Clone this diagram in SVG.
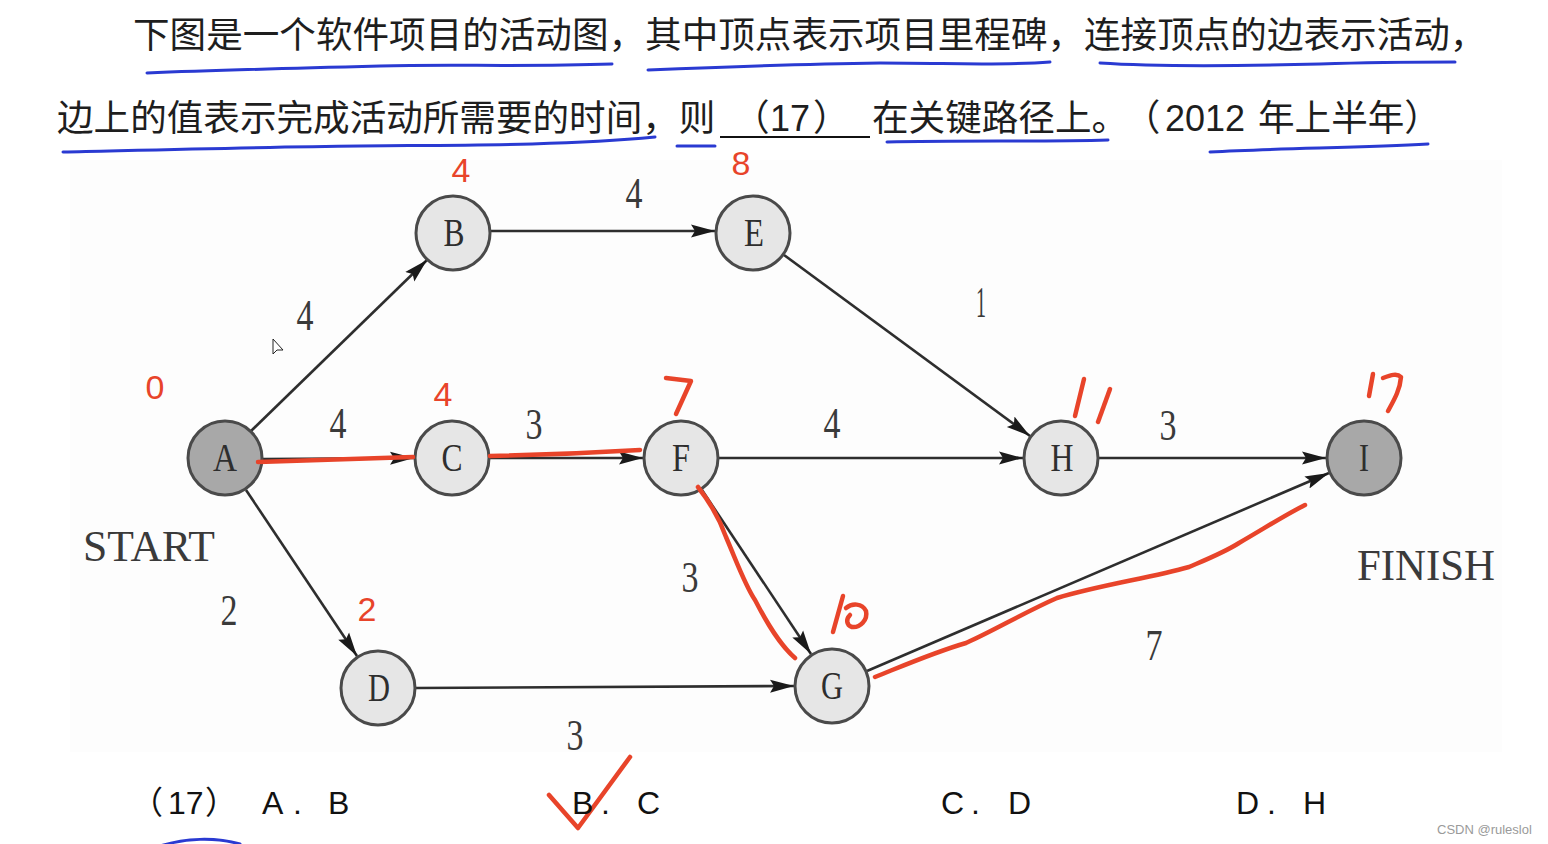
<svg xmlns="http://www.w3.org/2000/svg" width="1548" height="844" viewBox="0 0 1548 844">
<style>
.cn{font-family:"Noto Sans CJK SC","Noto Sans",sans-serif;font-size:36.6px;fill:#1e1e1e}
.num{font-family:"Liberation Sans",Arial,sans-serif;font-size:36px;fill:#1e1e1e}
.ans{font-family:"Liberation Sans",Arial,sans-serif;font-size:32px;fill:#111}
.ansc{font-family:"Noto Sans CJK SC",sans-serif;font-size:32px;fill:#111}
.nd{fill:#e6e6e6;stroke:#4a4a4a;stroke-width:3}
.nd.dark{fill:#a8a8a8}
.nl{font-family:"Liberation Serif","Times New Roman",serif;font-size:40px;fill:#2e2e2e;text-anchor:middle}
.el{font-family:"Liberation Serif","Times New Roman",serif;font-size:44px;fill:#3a3a3a;text-anchor:middle}
.edge{stroke:#2e2e2e;stroke-width:2.6;fill:none;marker-end:url(#ah)}
.red{stroke:#e8442a;stroke-width:4.5;fill:none;stroke-linecap:round;stroke-linejoin:round}
.redt{font-family:"Liberation Sans",Arial,sans-serif;font-size:34px;fill:#e8442a;text-anchor:middle}
.blue{stroke:#2a3ad2;stroke-width:3;fill:none;stroke-linecap:round}
</style>
<defs>
<marker id="ah" markerUnits="userSpaceOnUse" markerWidth="26" markerHeight="16" refX="24" refY="8" orient="auto">
<path d="M0,1.5 L24,8 L0,14.5 L4,8 Z" fill="#1a1a1a"/>
</marker>
</defs>
<rect width="1548" height="844" fill="#ffffff"/>
<rect x="70" y="160" width="1432" height="592" fill="#fdfdfd"/>

<g id="question">
<text class="cn" x="133" y="48">下图是一个软件项目的活动图，其中顶点表示项目里程碑，连接顶点的边表示活动，</text>
<text class="cn" x="57" y="131">边上的值表示完成活动所需要的时间，则</text>
<text class="cn" x="733" y="131">（</text>
<text class="num" x="770" y="131">17</text>
<text class="cn" x="813" y="131">）</text>
<line x1="720" y1="137" x2="870" y2="137" stroke="#111" stroke-width="2"/>
<text class="cn" x="872" y="131">在关键路径上。<tspan dx="14">（</tspan><tspan class="num" x="1165">2012</tspan></text>
<text class="cn" x="1258" y="131">年上半年）</text>
</g>

<g id="blue-marks">
<path class="blue" d="M147,73 C220,70 300,68 380,66 C450,64 520,67 612,64"/>
<path class="blue" d="M648,70 C720,67 800,64 880,63 C950,63 1000,66 1050,62"/>
<path class="blue" d="M1100,63 C1160,67 1240,66 1320,64 C1380,62 1420,62 1455,62"/>
<path class="blue" d="M63,152 C150,150 260,147 360,146 C450,145 560,146 655,137"/>
<path class="blue" d="M677,146 L715,146"/>
<path class="blue" d="M887,142 C960,140 1040,142 1108,140"/>
<path class="blue" d="M1210,152 C1280,148 1360,148 1428,144"/>
<path class="blue" d="M160,846 C185,838 215,837 240,844"/>
</g>

<g id="connectors">
<line class="edge" x1="251" y1="431" x2="427" y2="260"/>
<line class="edge" x1="263" y1="459" x2="414" y2="458"/>
<line class="edge" x1="246" y1="490" x2="357" y2="656"/>
<line class="edge" x1="491" y1="231" x2="715" y2="231"/>
<line class="edge" x1="490" y1="458" x2="643" y2="458"/>
<line class="edge" x1="784" y1="255" x2="1030" y2="436"/>
<line class="edge" x1="719" y1="458" x2="1023" y2="458"/>
<line class="edge" x1="1099" y1="458" x2="1326" y2="458"/>
<line class="edge" x1="702" y1="490" x2="811" y2="654"/>
<line class="edge" x1="416" y1="688" x2="794" y2="686"/>
<line class="edge" x1="867" y1="671" x2="1329" y2="473"/>
<text class="el" x="305" y="330" textLength="17" lengthAdjust="spacingAndGlyphs">4</text>
<text class="el" x="338" y="438" textLength="17" lengthAdjust="spacingAndGlyphs">4</text>
<text class="el" x="229" y="625" textLength="17" lengthAdjust="spacingAndGlyphs">2</text>
<text class="el" x="634" y="208" textLength="17" lengthAdjust="spacingAndGlyphs">4</text>
<text class="el" x="534" y="439" textLength="17" lengthAdjust="spacingAndGlyphs">3</text>
<text class="el" x="981" y="317" textLength="10" lengthAdjust="spacingAndGlyphs">1</text>
<text class="el" x="832" y="438" textLength="17" lengthAdjust="spacingAndGlyphs">4</text>
<text class="el" x="690" y="592" textLength="17" lengthAdjust="spacingAndGlyphs">3</text>
<text class="el" x="575" y="750" textLength="17" lengthAdjust="spacingAndGlyphs">3</text>
<text class="el" x="1168" y="440" textLength="17" lengthAdjust="spacingAndGlyphs">3</text>
<text class="el" x="1154" y="660" textLength="17" lengthAdjust="spacingAndGlyphs">7</text>
</g>

<g id="node-A"><circle class="nd dark" cx="225" cy="458" r="37"/><text class="nl" x="225" y="471" textLength="24" lengthAdjust="spacingAndGlyphs">A</text></g>
<g id="node-B"><circle class="nd" cx="453" cy="233" r="37"/><text class="nl" x="454" y="246" textLength="21" lengthAdjust="spacingAndGlyphs">B</text></g>
<g id="node-C"><circle class="nd" cx="452" cy="458" r="37"/><text class="nl" x="452" y="471" textLength="21" lengthAdjust="spacingAndGlyphs">C</text></g>
<g id="node-D"><circle class="nd" cx="378" cy="688" r="37"/><text class="nl" x="379" y="701" textLength="22" lengthAdjust="spacingAndGlyphs">D</text></g>
<g id="node-E"><circle class="nd" cx="753" cy="233" r="37"/><text class="nl" x="754" y="246" textLength="20" lengthAdjust="spacingAndGlyphs">E</text></g>
<g id="node-F"><circle class="nd" cx="681" cy="458" r="37"/><text class="nl" x="681" y="471" textLength="18" lengthAdjust="spacingAndGlyphs">F</text></g>
<g id="node-G"><circle class="nd" cx="832" cy="686" r="37"/><text class="nl" x="832" y="699" textLength="22" lengthAdjust="spacingAndGlyphs">G</text></g>
<g id="node-H"><circle class="nd" cx="1061" cy="458" r="37"/><text class="nl" x="1062" y="471" textLength="23" lengthAdjust="spacingAndGlyphs">H</text></g>
<g id="node-I"><circle class="nd dark" cx="1364" cy="458" r="37"/><text class="nl" x="1364" y="471" textLength="10" lengthAdjust="spacingAndGlyphs">I</text></g>

<text class="el" x="149" y="561" font-size="44" textLength="132" lengthAdjust="spacingAndGlyphs">START</text>
<text class="el" x="1426" y="580" font-size="44" textLength="138" lengthAdjust="spacingAndGlyphs">FINISH</text>

<polygon points="273,339 273,354 277,350 283,350" fill="#fff" stroke="#222" stroke-width="1"/>

<g id="red-marks">
<text class="redt" x="461" y="182">4</text>
<text class="redt" x="741" y="175">8</text>
<text class="redt" x="155" y="399">0</text>
<text class="redt" x="443" y="406">4</text>
<text class="redt" x="367" y="621">2</text>
<path class="red" d="M258,462 C310,460 360,459 413,457"/>
<path class="red" d="M490,456 C540,455 590,453 640,450"/>
<path class="red" d="M698,487 C712,505 720,520 726,537 C738,565 745,585 755,600 C768,625 780,645 795,658"/>
<path class="red" d="M875,677 C905,665 935,652 966,643 C995,630 1025,612 1057,598 C1100,585 1150,578 1189,567 C1210,558 1225,552 1239,543 C1265,528 1285,515 1305,505"/>
<path class="red" d="M666,378 L691,381 L676,414"/>
<path class="red" d="M1084,379 L1075,416"/>
<path class="red" d="M1110,389 L1098,422"/>
<path class="red" d="M1373,374 L1369,396"/>
<path class="red" d="M1383,378 C1391,375 1397,373 1401,377 C1400,390 1394,400 1388,411"/>
<path class="red" d="M843,596 L833,632"/>
<path class="red" d="M846,608 C852,603 862,603 866,611 C868,620 860,628 852,627 C846,625 846,619 850,615"/>
<path class="red" d="M549,795 L578,828 L630,757"/>
</g>

<g id="answers">
<text class="ansc" x="131" y="814">（</text>
<text class="ans" x="168" y="814">17</text>
<text class="ansc" x="205" y="814">）</text>
<text class="ans" x="262" y="814">A</text><text class="ans" x="293" y="814">.</text><text class="ans" x="328" y="814">B</text>
<text class="ans" x="572" y="814">B</text><text class="ans" x="601" y="814">.</text><text class="ans" x="637" y="814">C</text>
<text class="ans" x="941" y="814">C</text><text class="ans" x="971" y="814">.</text><text class="ans" x="1008" y="814">D</text>
<text class="ans" x="1236" y="814">D</text><text class="ans" x="1267" y="814">.</text><text class="ans" x="1303" y="814">H</text>
</g>

<text x="1437" y="834" font-family="'Liberation Sans',Arial,sans-serif" font-size="13" fill="#9a9a9a">CSDN @ruleslol</text>
</svg>
